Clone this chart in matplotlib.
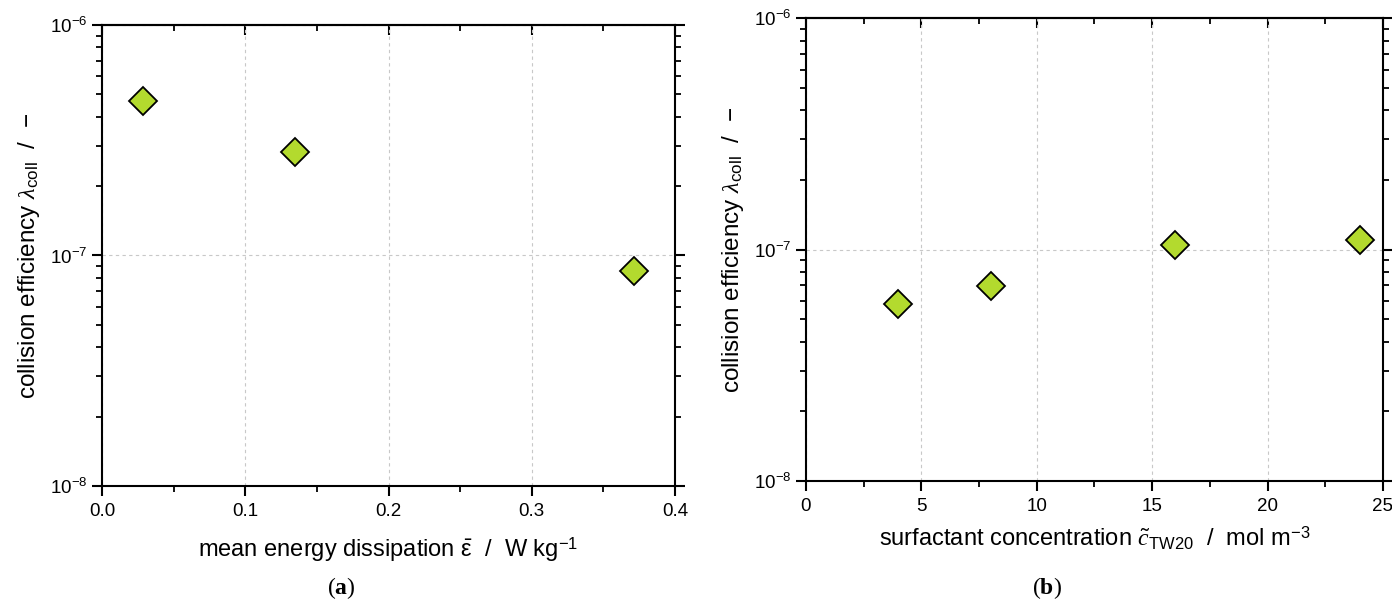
import matplotlib
matplotlib.use("Agg")
import matplotlib.pyplot as plt
from matplotlib import font_manager
from matplotlib.ticker import LogLocator, LogFormatterSciNotation, MultipleLocator, NullFormatter

# data
dissipation = [0.0284, 0.135, 0.3716]              # W kg^-1
coll_eff_a = [4.66e-7, 2.81e-7, 8.55e-8]
surfactant = [4, 8, 16, 24]                          # mol m^-3
coll_eff_b = [5.8e-8, 6.93e-8, 1.044e-7, 1.097e-7]

names = {f.name for f in font_manager.fontManager.ttflist}
tick_font = "Liberation Sans Narrow" if "Liberation Sans Narrow" in names else "Liberation Sans"

plt.rcParams["font.family"] = ["Liberation Sans", "DejaVu Sans"]
plt.rcParams["mathtext.fontset"] = "custom"
plt.rcParams["mathtext.rm"] = "Liberation Sans"
plt.rcParams["mathtext.it"] = "Liberation Serif:italic"
plt.rcParams["mathtext.bf"] = "Liberation Serif:bold"

fill = "#b3da2e"
grid_kw = dict(color="#c8c8c8", linestyle=(0, (3, 3)), linewidth=0.8)

fig = plt.figure(figsize=(13.92, 6.02), dpi=100)
ax_a = fig.add_axes([0.0733, 0.1927, 0.4116, 0.7658])
ax_b = fig.add_axes([0.5790, 0.2010, 0.4145, 0.7686])


def style(ax):
    ax.set_yscale("log")
    ax.set_ylim(1e-8, 1e-6)
    for s in ax.spines.values():
        s.set_linewidth(1.5)
    ax.yaxis.set_major_locator(LogLocator(base=10, numticks=5))
    ax.yaxis.set_minor_locator(LogLocator(base=10, subs=range(2, 10), numticks=20))
    ax.yaxis.set_minor_formatter(NullFormatter())
    ax.yaxis.set_major_formatter(LogFormatterSciNotation())
    ax.tick_params(axis="both", which="major", direction="out", length=7, width=1.5,
                   labelsize=13.5, top=False, right=True)
    ax.tick_params(axis="both", which="minor", direction="out", length=4.5, width=1.3,
                   top=False, right=True)
    ax.tick_params(axis="x", which="major", pad=5.5)
    # top axis carries inward ticks
    sec = ax.secondary_xaxis("top")
    sec.set_xticks(ax.get_xticks())
    sec.xaxis.set_minor_locator(ax.xaxis.get_minor_locator())
    sec.tick_params(axis="x", which="major", direction="in", length=7, width=1.5, labelsize=0)
    sec.tick_params(axis="x", which="minor", direction="in", length=4.5, width=1.3)
    sec.set_xticklabels([])
    sec.spines["top"].set_linewidth(1.5)
    for lab in ax.get_xticklabels() + ax.get_yticklabels():
        lab.set_fontfamily(tick_font)
    ax.grid(True, which="major", **grid_kw)
    ax.set_axisbelow(True)


# (a) mean energy dissipation
ax_a.set_xlim(0, 0.4)
ax_a.xaxis.set_major_locator(MultipleLocator(0.1))
ax_a.xaxis.set_minor_locator(MultipleLocator(0.05))
ax_a.xaxis.set_major_formatter(matplotlib.ticker.FormatStrFormatter("%.1f"))
style(ax_a)
ax_a.plot(dissipation, coll_eff_a, linestyle="none", marker="D", markersize=14,
          markerfacecolor=fill, markeredgecolor="black", markeredgewidth=1.3, zorder=3)
ax_a.set_xlabel(r"mean energy dissipation $\bar{\mathrm{\epsilon}}$  /  W kg$^{-1}$",
                fontsize=17, labelpad=11)
ax_a.set_ylabel(r"collision efficiency $\lambda_{\mathrm{coll}}$  /  $-$", fontsize=17.5, labelpad=6)

# (b) surfactant concentration
ax_b.set_xlim(0, 25)
ax_b.xaxis.set_major_locator(MultipleLocator(5))
ax_b.xaxis.set_minor_locator(MultipleLocator(2.5))
style(ax_b)
ax_b.plot(surfactant, coll_eff_b, linestyle="none", marker="D", markersize=14,
          markerfacecolor=fill, markeredgecolor="black", markeredgewidth=1.3, zorder=3)
ax_b.set_xlabel(r"surfactant concentration $\tilde{c}_{\mathrm{TW20}}$  /  mol m$^{-3}$",
                fontsize=17, labelpad=7)
ax_b.set_ylabel(r"collision efficiency $\lambda_{\mathrm{coll}}$  /  $-$", fontsize=17.5, labelpad=6)

# panel captions
fig.text(341 / 1392, 1 - 588 / 602, r"($\mathbf{a}$)", ha="center", va="center",
         fontsize=17, family="Liberation Serif")
fig.text(1047 / 1392, 1 - 588 / 602, r"($\mathbf{b}$)", ha="center", va="center",
         fontsize=17, family="Liberation Serif")

fig.savefig("out.png", dpi=100)
